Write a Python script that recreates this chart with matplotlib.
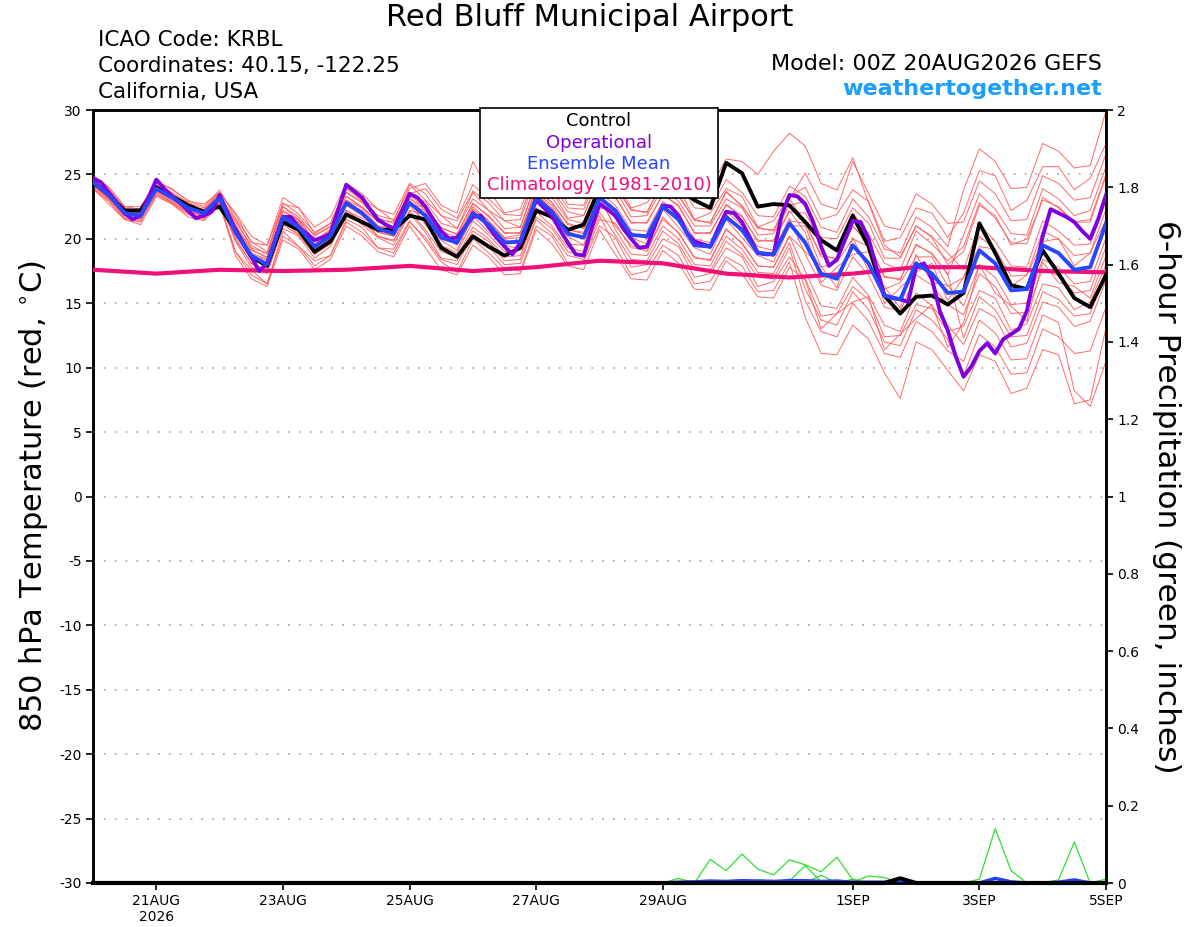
import matplotlib
matplotlib.use("Agg")
import matplotlib.pyplot as plt
import numpy as np

plt.rcParams['font.family'] = ['DejaVu Sans']
plt.rcParams['axes.unicode_minus'] = False

# ---------------- data ----------------
# 6-hourly steps from 20AUG2026 00Z to 05SEP2026 00Z (hours)
hours6 = list(range(0, 385, 6))
hours3 = list(range(0, 385, 3))
hours24 = list(range(0, 385, 24))

control = [24.4, 23.4, 22.2, 22.2, 24.0, 23.3, 22.6, 22.1, 22.5, 20.7, 18.6, 17.9,
           21.3, 20.7, 19.0, 19.8, 21.9, 21.3, 20.7, 20.7, 21.8, 21.5, 19.3, 18.6,
           20.2, 19.4, 18.7, 19.3, 22.2, 21.7, 20.7, 21.1, 23.9, 25.0, 24.6, 24.0,
           24.4, 23.9, 23.0, 22.4, 25.9, 25.1, 22.5, 22.7, 22.6, 21.3, 19.9, 19.1,
           21.8, 19.4, 15.6, 14.2, 15.5, 15.6, 14.9, 15.8, 21.2, 18.9, 16.4, 16.1,
           19.1, 17.3, 15.4, 14.7, 17.2]

operational = [24.7, 24.4, 23.6, 22.8, 22.0, 21.5, 21.8, 23.2, 24.6, 23.9, 23.3, 22.8,
               22.2, 21.6, 21.8, 22.1, 23.4, 22.0, 20.7, 19.6, 18.6, 17.5, 18.1, 19.9,
               21.7, 21.7, 20.9, 20.4, 19.9, 20.1, 20.4, 22.3, 24.2, 23.7, 23.2, 22.3,
               21.5, 21.1, 20.8, 22.1, 23.5, 23.2, 22.5, 21.5, 20.6, 20.0, 20.1, 20.9,
               21.7, 21.8, 20.9, 20.1, 19.4, 18.8, 19.7, 21.4, 23.0, 22.4, 21.8, 20.7,
               19.7, 18.8, 18.7, 20.8, 22.7, 22.3, 21.8, 20.8, 20.0, 19.3, 19.4, 21.0,
               22.6, 22.5, 21.8, 20.5, 19.8, 19.6, 19.4, 20.8, 22.1, 22.0, 21.3, 20.1,
               18.9, 18.8, 18.8, 21.8, 23.4, 23.3, 22.7, 21.3, 19.4, 17.9, 18.4, 19.9,
               21.4, 21.3, 20.0, 17.8, 15.6, 15.4, 15.3, 15.1, 17.8, 18.1, 16.9, 14.4,
               12.9, 10.9, 9.3, 10.1, 11.3, 11.9, 11.1, 12.2, 12.6, 13.0, 14.4, 17.3,
               20.2, 22.3, 22.0, 21.7, 21.3, 20.6, 20.0, 21.5, 23.4]

ens_mean = [24.4, 23.4, 22.0, 21.8, 23.9, 23.2, 22.4, 22.0, 23.2, 20.5, 18.7, 18.0,
            21.7, 20.9, 19.4, 20.2, 22.8, 22.0, 20.8, 20.4, 22.8, 21.8, 20.1, 19.7,
            22.0, 21.1, 19.7, 19.8, 23.2, 22.1, 20.4, 20.1, 23.2, 22.2, 20.3, 20.2,
            22.5, 21.5, 19.5, 19.4, 21.7, 20.7, 18.9, 18.8, 21.2, 19.7, 17.3, 16.9,
            19.5, 18.1, 15.6, 15.3, 18.1, 17.3, 15.8, 15.9, 19.1, 18.1, 16.0, 16.1,
            19.5, 18.9, 17.6, 17.8, 21.2]

climatology = [17.6, 17.3, 17.6, 17.5, 17.6, 17.9, 17.5, 17.8, 18.3, 18.1, 17.3,
               17.0, 17.3, 17.8, 17.8, 17.5, 17.4]

m01 = [24.9, 24.0, 22.5, 22.5, 24.4, 23.9, 22.9, 22.7, 23.6, 21.9, 19.7, 19.5, 22.7, 22.4, 20.4, 21.2, 24.0, 23.1, 22.3, 21.4, 24.2,
       23.0, 21.8, 20.8, 23.6, 22.2, 21.4, 20.9, 24.5, 23.7, 21.6, 21.8, 24.6, 24.6, 22.4, 22.8, 24.5, 24.0, 21.5, 22.0, 23.9, 23.3, 20.9, 21.4, 23.3,
       24.0, 21.5, 21.9, 23.8, 22.9, 19.8, 20.1, 22.4, 22.0, 20.1, 22.0, 25.3, 24.9, 22.2, 23.0, 25.6, 25.6, 23.8, 24.7, 27.4]
m02 = [23.9, 22.7, 21.5, 21.1, 23.3, 22.7, 21.7, 21.4, 22.6, 19.0, 17.6, 16.5, 20.6, 19.4, 18.3, 18.7, 21.5, 20.9, 19.3, 19.2, 21.4,
       19.9, 18.2, 17.4, 20.0, 18.9, 17.7, 17.5, 21.0, 20.2, 18.1, 18.2, 21.0, 20.1, 17.8, 18.0, 20.0, 19.4, 17.0, 17.3, 19.3, 18.6, 16.3, 16.7, 18.6,
       16.9, 14.0, 14.2, 16.3, 15.3, 12.4, 12.5, 14.9, 14.6, 12.8, 13.2, 16.0, 15.4, 12.9, 13.4, 16.5, 16.2, 14.5, 15.1, 18.0]
m03 = [24.6, 23.7, 22.1, 22.1, 24.0, 23.5, 22.5, 22.3, 23.3, 21.5, 19.3, 18.9, 22.5, 21.5, 20.3, 20.9, 23.6, 22.9, 21.5, 21.3, 23.5,
       23.9, 22.3, 21.6, 24.2, 23.1, 21.9, 21.8, 25.3, 24.3, 22.4, 22.3, 25.2, 24.0, 22.3, 22.0, 24.5, 23.3, 21.5, 21.2, 23.7, 22.5, 20.9, 20.6, 23.1,
       21.3, 18.6, 18.5, 21.0, 19.7, 17.0, 16.9, 19.5, 18.9, 17.2, 20.3, 23.5, 22.3, 20.4, 20.3, 23.9, 23.1, 21.8, 22.2, 25.6]
m04 = [24.2, 23.1, 21.8, 21.5, 23.7, 22.9, 22.2, 21.7, 22.9, 19.8, 17.8, 17.3, 20.8, 20.2, 18.5, 19.4, 22.0, 21.1, 20.1, 19.5, 22.0,
       20.5, 18.5, 18.3, 20.6, 19.8, 18.3, 18.4, 21.7, 20.8, 19.0, 18.7, 21.8, 19.4, 17.2, 17.5, 19.5, 18.7, 16.5, 16.7, 18.6, 17.9, 15.9, 16.0, 18.2,
       13.9, 11.1, 11.0, 13.3, 12.2, 9.6, 7.6, 12.0, 11.4, 9.8, 8.2, 11.0, 10.5, 8.0, 8.4, 11.4, 11.0, 7.2, 7.5, 13.1]
m05 = [24.3, 23.5, 21.9, 21.9, 23.8, 23.3, 22.3, 22.1, 23.1, 20.9, 18.9, 18.4, 21.9, 21.3, 19.6, 20.6, 23.0, 22.4, 21.0, 20.8, 23.1,
       22.4, 20.9, 20.3, 22.8, 21.7, 20.5, 20.4, 23.9, 22.8, 21.2, 20.8, 23.8, 23.8, 21.7, 21.8, 24.0, 22.9, 21.0, 21.0, 23.1, 22.4, 20.3, 20.4, 22.6,
       22.9, 20.1, 20.0, 22.4, 21.2, 18.5, 18.5, 21.0, 20.2, 18.9, 17.6, 21.1, 19.8, 17.9, 17.8, 21.4, 20.6, 19.5, 19.6, 23.0]
m06 = [24.6, 23.8, 22.3, 22.1, 24.2, 23.4, 22.8, 22.2, 23.6, 21.1, 19.1, 18.6, 22.1, 21.5, 19.8, 20.7, 23.3, 22.4, 21.4, 20.8, 23.3,
       21.8, 20.3, 19.5, 22.2, 20.8, 19.9, 19.6, 23.5, 21.9, 20.6, 20.0, 23.0, 21.0, 19.5, 19.0, 21.7, 20.4, 18.6, 18.3, 20.8, 19.6, 17.9, 17.8, 20.2,
       17.5, 14.8, 14.6, 17.0, 15.6, 13.3, 12.8, 15.8, 14.8, 13.3, 11.8, 14.6, 13.9, 11.6, 11.9, 15.1, 14.7, 13.2, 13.6, 16.8]
m07 = [24.1, 23.1, 21.7, 21.6, 23.6, 22.8, 22.1, 21.8, 22.8, 20.1, 18.1, 17.6, 21.3, 20.4, 18.8, 19.8, 22.2, 21.6, 20.2, 19.9, 22.2,
       21.9, 20.2, 19.6, 22.3, 21.0, 19.8, 19.6, 23.4, 22.3, 20.3, 20.2, 23.1, 23.3, 21.2, 21.3, 23.4, 22.6, 20.4, 20.5, 22.6, 21.8, 19.8, 19.9, 22.1,
       22.0, 19.8, 19.2, 22.0, 20.4, 18.1, 17.6, 20.6, 19.6, 18.3, 19.4, 22.8, 21.6, 19.7, 19.6, 23.2, 22.4, 21.3, 21.3, 24.9]
m08 = [24.5, 23.5, 22.1, 21.9, 24.0, 23.3, 22.5, 22.1, 23.3, 20.3, 18.5, 17.8, 21.5, 20.8, 19.1, 20.0, 22.6, 21.9, 20.5, 20.2, 22.6,
       22.2, 20.6, 20.1, 22.5, 21.4, 20.1, 20.3, 23.6, 22.6, 20.7, 20.5, 23.6, 22.6, 20.7, 20.6, 22.9, 21.9, 20.0, 19.7, 22.2, 21.0, 19.4, 19.1, 21.6,
       18.8, 16.4, 16.0, 18.6, 17.2, 14.7, 14.4, 17.2, 16.4, 14.9, 14.1, 17.3, 16.3, 14.2, 14.3, 17.7, 17.1, 15.8, 16.0, 19.4]
m09 = [24.3, 23.3, 21.9, 21.7, 23.8, 23.1, 22.3, 21.9, 23.1, 19.9, 18.1, 17.4, 21.1, 20.3, 18.8, 19.6, 22.2, 21.4, 20.2, 19.8, 22.2,
       20.7, 19.0, 18.6, 20.9, 20.0, 18.6, 18.7, 22.1, 21.0, 19.3, 19.0, 22.1, 20.3, 18.4, 18.3, 20.6, 19.6, 17.6, 17.5, 19.8, 18.8, 17.0, 16.9, 19.3,
       15.2, 12.8, 12.4, 15.0, 13.6, 11.1, 10.8, 13.6, 12.8, 11.3, 10.5, 13.7, 12.7, 10.6, 10.7, 14.1, 13.5, 8.2, 7.0, 10.5]
m10 = [24.8, 23.8, 22.4, 22.2, 24.3, 23.6, 22.8, 22.4, 23.6, 22.0, 20.2, 19.5, 23.2, 22.4, 20.9, 21.7, 24.3, 23.5, 22.3, 21.9, 24.3,
       23.5, 21.8, 21.4, 23.7, 22.8, 21.4, 21.5, 24.9, 23.8, 22.1, 21.8, 24.9, 23.2, 21.3, 21.2, 23.5, 22.5, 20.5, 20.4, 22.7, 21.7, 19.9, 19.8, 22.2,
       20.5, 16.6, 17.8, 18.8, 19.0, 15.0, 16.2, 17.4, 18.1, 15.2, 17.0, 20.2, 19.2, 17.1, 17.2, 20.6, 20.0, 18.7, 18.9, 22.3]
m11 = [24.0, 23.0, 21.6, 21.4, 23.5, 22.8, 22.0, 21.6, 22.8, 19.0, 17.2, 16.5, 20.2, 19.4, 17.9, 18.7, 21.3, 20.5, 19.3, 18.9, 21.3,
       20.1, 18.4, 18.0, 20.3, 19.4, 18.0, 18.1, 21.5, 20.4, 18.7, 18.4, 21.5, 21.2, 19.3, 19.2, 21.5, 20.5, 18.5, 18.4, 20.7, 19.7, 17.9, 17.8, 20.2,
       19.0, 17.9, 16.2, 20.1, 17.5, 16.3, 14.6, 18.8, 16.6, 16.4, 14.8, 18.0, 17.0, 14.9, 15.0, 18.4, 17.8, 16.5, 16.7, 20.1]
m12 = [24.5, 23.5, 22.1, 21.9, 24.0, 23.3, 22.5, 22.1, 23.3, 21.0, 19.2, 18.5, 22.2, 21.4, 19.9, 20.7, 23.3, 22.5, 21.3, 20.9, 23.3,
       22.9, 21.2, 20.8, 23.1, 22.2, 20.8, 20.9, 24.3, 23.2, 21.5, 21.2, 24.3, 25.1, 23.2, 23.1, 25.4, 24.4, 22.4, 22.3, 24.6, 23.6, 21.8, 21.7, 24.1,
       23.3, 20.9, 20.5, 23.1, 21.7, 19.2, 18.9, 21.7, 20.9, 19.4, 23.8, 27.0, 26.0, 23.9, 24.0, 27.4, 26.8, 25.5, 25.7, 29.9]
m13 = [24.3, 23.4, 21.8, 21.8, 23.8, 23.1, 22.3, 22.0, 23.1, 20.6, 18.5, 18.2, 21.5, 21.1, 19.2, 20.4, 22.6, 22.2, 20.5, 20.6, 22.6,
       21.2, 19.9, 19.1, 21.8, 20.5, 19.5, 19.2, 23.0, 21.5, 20.2, 19.5, 23.0, 21.6, 20.1, 19.6, 22.3, 20.9, 19.3, 18.8, 21.5, 20.1, 18.7, 18.2, 21.0,
       21.0, 17.8, 18.2, 20.0, 19.4, 16.1, 16.6, 18.6, 18.6, 16.3, 17.0, 19.4, 19.2, 16.3, 17.2, 19.8, 20.0, 17.9, 18.9, 21.5]
m14 = [24.6, 23.6, 22.2, 22.0, 24.1, 23.4, 22.6, 22.2, 23.4, 21.3, 19.5, 18.8, 22.5, 21.7, 20.2, 21.0, 23.6, 22.8, 21.6, 21.2, 23.6,
       22.1, 20.4, 20.0, 22.3, 21.4, 20.0, 20.1, 23.5, 22.4, 20.7, 20.4, 23.5, 20.7, 18.8, 18.7, 21.0, 20.0, 18.0, 17.9, 20.2, 19.2, 17.4, 17.3, 19.7,
       16.1, 13.7, 13.3, 15.9, 14.5, 12.0, 11.7, 14.5, 13.7, 12.2, 9.4, 12.6, 11.6, 9.5, 9.6, 13.0, 12.4, 11.1, 11.3, 14.7]
m15 = [24.2, 23.2, 21.8, 21.6, 23.7, 23.0, 22.2, 21.8, 23.0, 20.3, 18.5, 17.8, 21.5, 20.7, 19.2, 20.0, 22.6, 21.8, 20.6, 20.2, 22.6,
       22.5, 20.8, 20.4, 22.7, 21.8, 20.4, 20.5, 23.9, 22.8, 21.1, 20.8, 23.9, 24.1, 22.2, 22.1, 24.4, 23.4, 21.4, 21.3, 23.6, 22.6, 20.8, 20.7, 23.1,
       25.1, 22.7, 22.3, 26.0, 23.5, 21.0, 20.7, 23.5, 22.7, 21.2, 21.3, 24.5, 23.5, 21.4, 21.5, 24.9, 24.3, 23.0, 23.2, 26.6]
m16 = [24.9, 24.0, 22.5, 22.3, 24.5, 23.8, 23.0, 22.5, 23.8, 21.6, 19.8, 19.0, 22.8, 21.9, 20.5, 21.2, 23.9, 23.0, 21.8, 21.5, 23.9,
       24.3, 22.6, 22.0, 26.0, 23.8, 22.0, 22.3, 25.6, 24.8, 22.7, 22.6, 25.5, 25.5, 23.9, 23.8, 26.3, 25.6, 23.8, 23.9, 26.2, 26.0, 25.0, 26.8, 28.2,
       27.2, 24.3, 23.8, 26.3, 22.8, 19.5, 18.6, 21.0, 20.1, 18.0, 19.0, 22.6, 21.8, 19.5, 20.0, 23.0, 22.5, 21.3, 21.5, 25.0]
m17 = [23.9, 22.9, 21.5, 21.3, 23.4, 22.7, 21.9, 21.5, 22.7, 18.7, 16.9, 16.3, 19.9, 19.2, 17.6, 18.4, 21.0, 20.2, 19.0, 18.6, 21.0,
       19.3, 17.6, 17.2, 19.5, 18.6, 17.2, 17.3, 20.7, 19.6, 17.9, 17.6, 20.7, 18.8, 16.9, 16.8, 19.1, 18.1, 16.1, 16.0, 18.3, 17.3, 15.5, 15.4, 17.8,
       16.8, 13.0, 14.2, 15.1, 15.5, 11.4, 12.6, 13.8, 14.9, 11.6, 13.5, 18.0, 15.8, 14.8, 13.6, 18.2, 16.6, 16.3, 15.4, 18.7]
m18 = [24.4, 23.3, 22.1, 21.7, 23.9, 23.1, 22.5, 21.9, 23.2, 20.8, 18.8, 18.3, 21.8, 21.2, 19.5, 20.5, 23.0, 22.1, 21.0, 20.6, 23.0,
       21.1, 19.5, 18.9, 21.4, 20.3, 19.0, 19.2, 22.4, 21.5, 19.6, 19.5, 22.4, 22.2, 20.5, 20.0, 22.6, 21.3, 19.8, 19.2, 21.9, 20.5, 19.1, 18.6, 21.4,
       21.2, 18.8, 18.4, 21.0, 19.6, 17.1, 16.8, 19.6, 18.8, 17.3, 12.3, 15.5, 14.5, 12.4, 12.5, 15.9, 15.3, 14.0, 14.2, 17.6]
members = [m01, m02, m03, m04, m05, m06, m07, m08, m09, m10, m11, m12, m13, m14, m15, m16, m17, m18]

# 6-hour precipitation (inches), 6-hourly
z = [0.0] * 65
p_a = z[:38] + [0.0, 0.061, 0.032, 0.075, 0.036, 0.021, 0.060, 0.047, 0.029, 0.067, 0.008] + z[:16]
p_b = z[:36] + [0.0, 0.012, 0.0, 0.0, 0.0, 0.0, 0.008, 0.006, 0.005, 0.045, 0.003, 0.0, 0.003, 0.018, 0.014, 0.0] + z[:13]
p_c = z[:55] + [0.0, 0.010, 0.141, 0.032, 0.0, 0.0, 0.008, 0.106, 0.0, 0.010]
p_d = z[:40] + [0.0, 0.0, 0.0, 0.0, 0.010, 0.0, 0.020, 0.0, 0.010, 0.0, 0.0] + z[:14]
precip_members = [p_a, p_b, p_c, p_d]
precip_mean = z[:37] + [0.002, 0.003, 0.005, 0.004, 0.006, 0.005, 0.004, 0.006, 0.006, 0.004, 0.005, 0.002,
                        0.002, 0.002, 0.001, 0.0, 0.0, 0.0, 0.0, 0.0, 0.012, 0.003, 0.0, 0.0, 0.002,
                        0.008, 0.0, 0.001]
precip_control = z[:49] + [0.0, 0.0, 0.012, 0.0] + z[:12]

xtick_hours = [24, 72, 120, 168, 216, 288, 336, 384]
xtick_labels = ["21AUG\n2026", "23AUG", "25AUG", "27AUG", "29AUG", "1SEP", "3SEP", "5SEP"]
ytick_left = list(range(-30, 31, 5))
ytick_right = [0, 0.2, 0.4, 0.6, 0.8, 1, 1.2, 1.4, 1.6, 1.8, 2]
ytick_right_labels = ["0", "0.2", "0.4", "0.6", "0.8", "1", "1.2", "1.4", "1.6", "1.8", "2"]

# ---------------- figure ----------------
fig = plt.figure(figsize=(12, 9.27), dpi=100)
ax = fig.add_axes([93/1200, 1 - 883/927, (1106-93)/1200, (883-110)/927])
ax2 = ax.twinx()

ax.set_zorder(2)
ax.patch.set_visible(False)

# precipitation (right axis)
for p in precip_members:
    ax2.plot(hours6, p, color='#33dd33', lw=0.9, zorder=2)
ax2.plot(hours6, precip_mean, color='#1f3fff', lw=2.5, zorder=3, clip_on=False)
ax2.plot(hours6, precip_control, color='black', lw=3, zorder=4, clip_on=False)
ax2.set_ylim(0, 2)
ax2.set_yticks(ytick_right)
ax2.set_yticklabels(ytick_right_labels)

# temperature (left axis)
for mem in members:
    ax.plot(hours6, mem, color='#ff5a5a', lw=0.7, alpha=0.9, zorder=2)
ax.plot(hours24, climatology, color='#f0107a', lw=3, zorder=3)
ax.plot(hours6, control, color='black', lw=2.8, zorder=4)
ax.plot(hours3, operational, color='#8000e0', lw=2.8, zorder=5)
ax.plot(hours6, ens_mean, color='#2a45ff', lw=2.8, zorder=6)

ax.set_xlim(0, 384)
ax.set_ylim(-30, 30)
ax.set_yticks(ytick_left)
ax.set_xticks(xtick_hours)
ax.set_xticklabels(xtick_labels)
for y in ytick_left[1:-1]:
    ax.axhline(y, color='#b0b0b0', lw=1.3, ls=(0, (1, 5)), zorder=1)

for a in (ax, ax2):
    for s in a.spines.values():
        s.set_linewidth(1.8)
    a.tick_params(direction='out', length=5, width=1.2, labelsize=10, pad=3)

ax.set_ylabel("850 hPa Temperature (red, $^{\\circ}$C)", fontsize=22)
ax.yaxis.set_label_coords(-0.0424, 0.5)
ax2.set_ylabel("6-hour Precipitation (green, inches)", fontsize=22.5, rotation=270, labelpad=30)

# legend box (text only)
leg_items = [("Control", 'black'), ("Operational", '#8000e0'),
             ("Ensemble Mean", '#2a45ff'), ("Climatology (1981-2010)", '#f0107a')]
box = plt.Rectangle((480/1200, 1 - 198/927), (718-480)/1200, (198-108)/927,
                    transform=fig.transFigure, facecolor='white', edgecolor='black',
                    lw=1.2, zorder=10)
fig.patches.append(box)
for k, (t, c) in enumerate(leg_items):
    fig.text(599/1200, 1 - (121 + 21.5*k)/927, t, color=c, fontsize=13,
             ha='center', va='center', zorder=11)

# header texts
fig.text(590/1200, 1 - 18/927, "Red Bluff Municipal Airport", fontsize=22,
         ha='center', va='center')
fig.text(98/1200, 1 - 40/927, "ICAO Code: KRBL", fontsize=15.5, ha='left', va='center')
fig.text(98/1200, 1 - 66/927, "Coordinates: 40.15, -122.25", fontsize=15.5, ha='left', va='center')
fig.text(98/1200, 1 - 92/927, "California, USA", fontsize=15.5, ha='left', va='center')
fig.text(1102/1200, 1 - 64/927, "Model: 00Z 20AUG2026 GEFS", fontsize=16, ha='right', va='center')
fig.text(1102/1200, 1 - 89/927, "weathertogether.net", fontsize=16, fontweight='bold',
         color='#1a9fff', ha='right', va='center')

fig.savefig("out.png", dpi=100)
